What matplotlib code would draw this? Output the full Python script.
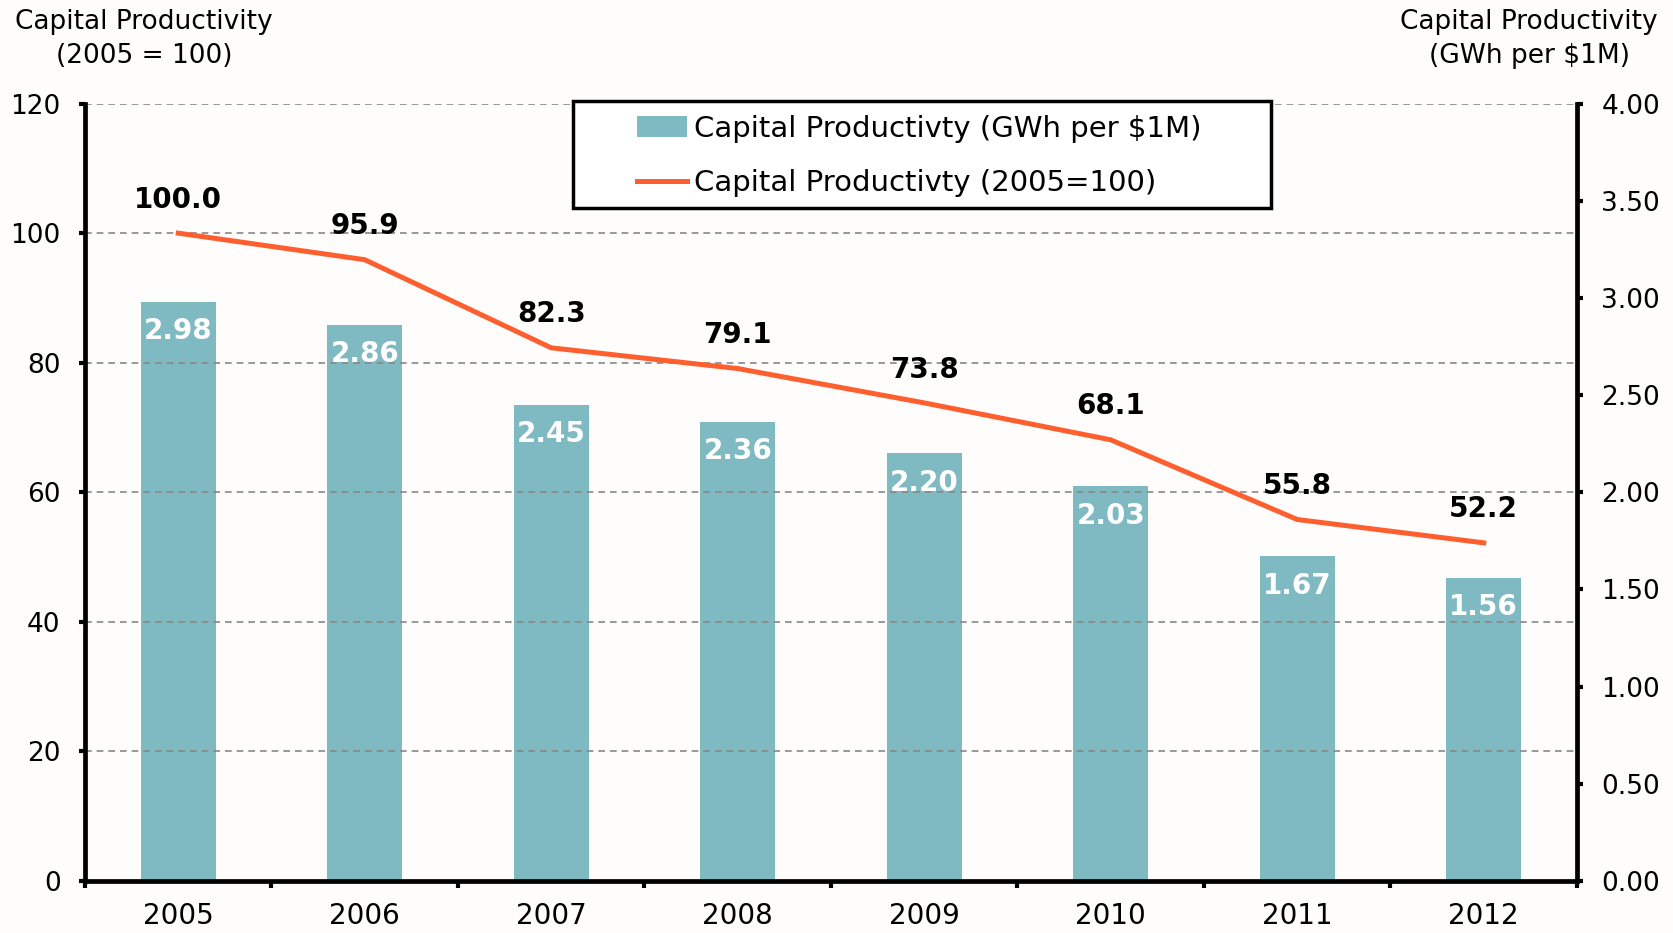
import matplotlib.pyplot as plt
from matplotlib.patches import Rectangle
import numpy as np

years = ["2005", "2006", "2007", "2008", "2009", "2010", "2011", "2012"]
gwh_per_1m = [2.98, 2.86, 2.45, 2.36, 2.20, 2.03, 1.67, 1.56]
index_2005 = [100.0, 95.9, 82.3, 79.1, 73.8, 68.1, 55.8, 52.2]

bar_color = "#7FB9C2"
line_color = "#FF5F2E"
bg = "#FEFDFC"
fs = 19

plt.rcParams["font.family"] = "DejaVu Sans"

fig = plt.figure(figsize=(16.73, 9.33), dpi=100, facecolor=bg)
ax = fig.add_axes([0.0508, 0.0557, 0.8918, 0.8333])
ax2 = ax.twinx()

x = np.arange(len(years))

# bars on the right axis, line on the left axis
bars = ax2.bar(x, gwh_per_1m, width=0.4, color=bar_color, zorder=2,
               label="Capital Productivty (GWh per $1M)")
ax.set_zorder(ax2.get_zorder() + 1)
ax.patch.set_visible(False)
ax2.patch.set_facecolor(bg)
line, = ax.plot(x, index_2005, color=line_color, lw=3.6, zorder=3,
                label="Capital Productivty (2005=100)")

for xi, v in zip(x, gwh_per_1m):
    ax2.annotate(f"{v:.2f}", (xi, v), xytext=(0, -21), textcoords="offset points",
                 ha="center", va="center", color="white", fontsize=20, fontweight="bold")
for xi, v in zip(x, index_2005):
    ax.annotate(f"{v:.1f}", (xi, v), xytext=(0, 24), textcoords="offset points",
                ha="center", va="center", color="black", fontsize=20, fontweight="bold")

ax.set_xlim(-0.5, len(years) - 0.5)
ax.set_ylim(0, 120)
ax2.set_ylim(0, 4)
ax.set_yticks(range(0, 121, 20))
ax2.set_yticks(np.arange(0, 4.01, 0.5))
ax2.set_yticklabels([f"{t:.2f}" for t in np.arange(0, 4.01, 0.5)])

ax.set_xticks(x)
ax.set_xticklabels(years)
ax.set_xticks(np.arange(-0.5, len(years), 1), minor=True)
ax.tick_params(axis="x", which="major", length=0, pad=15, labelsize=20)
ax.tick_params(axis="x", which="minor", length=5, width=3, direction="out")
ax.tick_params(axis="y", length=4.5, width=3, labelsize=fs, pad=13)
ax2.tick_params(axis="y", length=4.5, width=3, labelsize=fs, pad=13)

ax.grid(axis="y", color="#888888", ls=(0, (4, 3)), lw=1.2)
ax.set_axisbelow(True)

for a in (ax, ax2):
    a.spines["top"].set_visible(False)
    for s in ("left", "right", "bottom"):
        a.spines[s].set_linewidth(3.4)
ax2.spines["left"].set_visible(False)
ax2.spines["bottom"].set_visible(False)
ax.spines["right"].set_visible(False)

fig.text(0.086, 0.99, "Capital Productivity\n(2005 = 100)", ha="center", va="top",
         fontsize=fs, linespacing=1.4)
fig.text(0.914, 0.99, "Capital Productivity\n(GWh per $1M)", ha="center", va="top",
         fontsize=fs, linespacing=1.4)

# legend box drawn separately, legend entries placed inside it
fig.patches.append(Rectangle((0.3425, 0.7771), 0.4172, 0.1146, transform=fig.transFigure,
                             facecolor="white", edgecolor="black", lw=2.5, zorder=9))
leg = fig.legend([bars, line], [bars.get_label(), line.get_label()],
                 loc="upper left", bbox_to_anchor=(0.3808, 0.877),
                 fontsize=21, frameon=False,
                 handlelength=1.7, handletextpad=0.25, borderpad=0,
                 labelspacing=0.9, borderaxespad=0)
leg.set_zorder(10)

fig.savefig("out.png", dpi=100, facecolor=bg)
